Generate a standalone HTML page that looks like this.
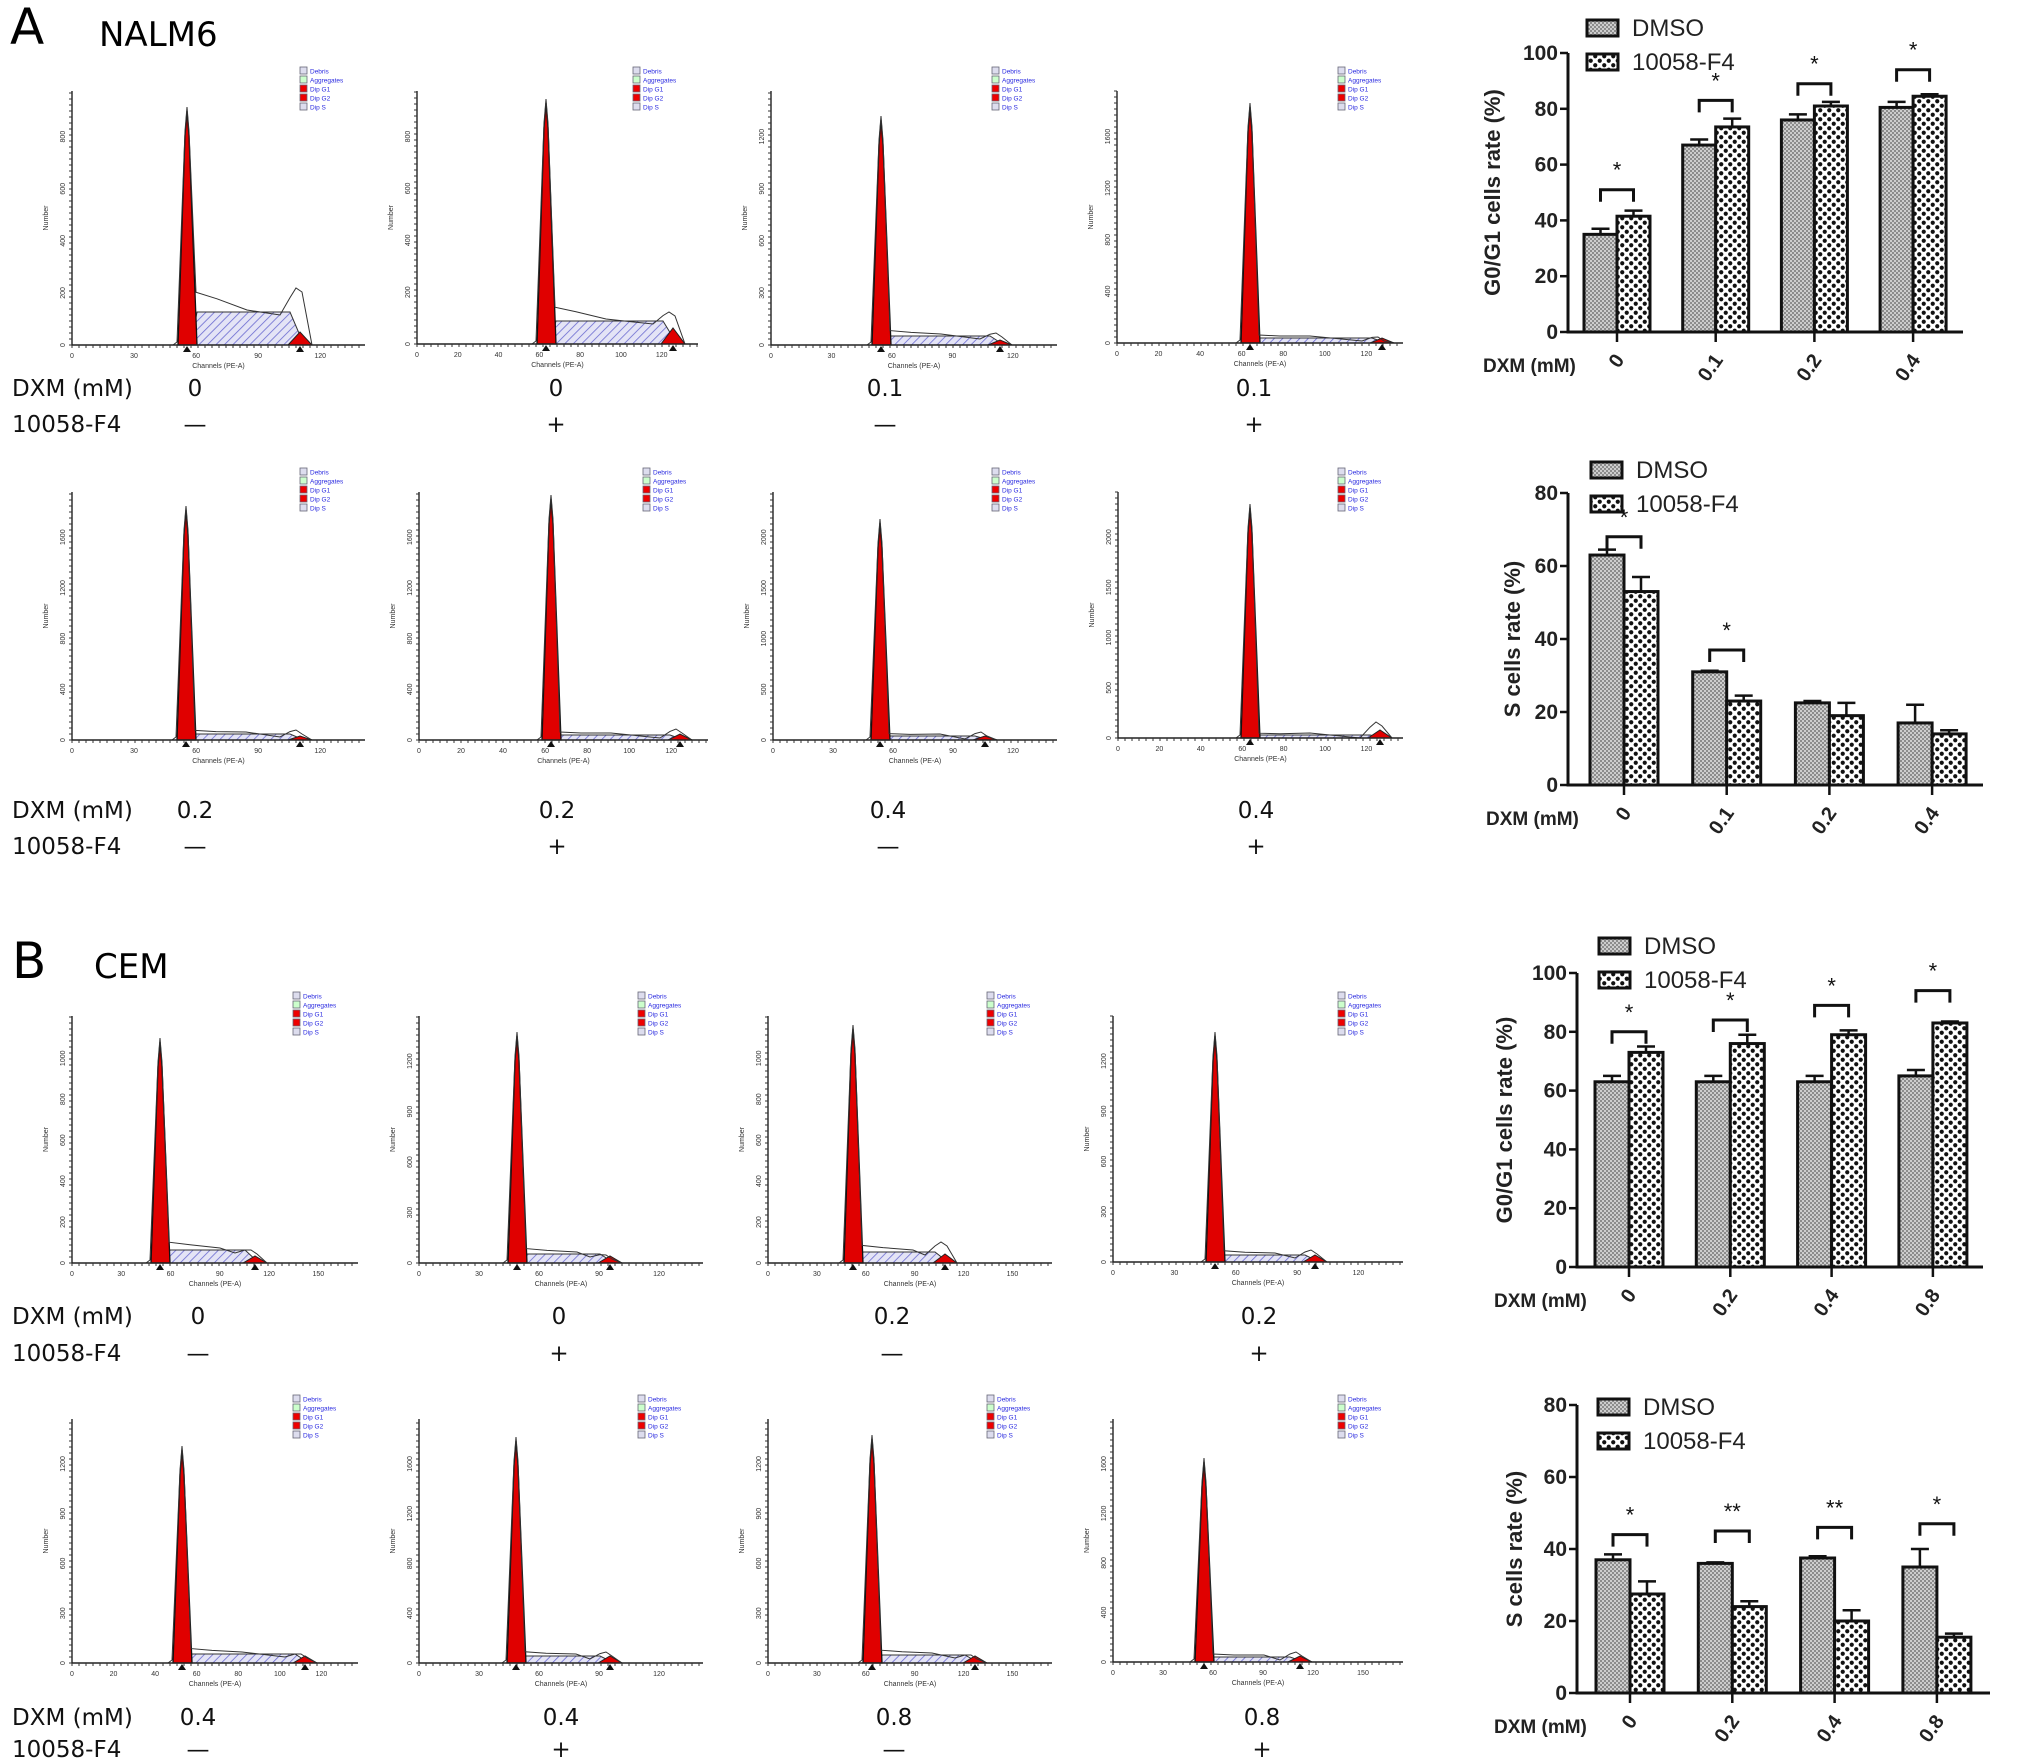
<!DOCTYPE html>
<html><head><meta charset="utf-8">
<style>
html,body{margin:0;padding:0;background:#fff;}
svg{display:block;font-family:"Liberation Sans",Arial,sans-serif;}
</style></head>
<body>
<svg id="fig" width="2031" height="1762" viewBox="0 0 2031 1762" xmlns="http://www.w3.org/2000/svg">
<defs>
<pattern id="pDmso" width="4" height="4" patternUnits="userSpaceOnUse">
<rect width="4" height="4" fill="#cdcdcd"/><rect width="2" height="2" fill="#8c8c8c"/><rect x="2" y="2" width="2" height="2" fill="#8c8c8c"/>
</pattern>
<pattern id="pF4" width="9" height="9" patternUnits="userSpaceOnUse">
<rect width="9" height="9" fill="#fff"/><circle cx="2.25" cy="2.25" r="2.1" fill="#111"/><circle cx="6.75" cy="6.75" r="2.1" fill="#111"/>
</pattern>
<pattern id="pHatch" width="6" height="6" patternUnits="userSpaceOnUse" patternTransform="rotate(45)">
<rect width="6" height="6" fill="#e4e4f6"/><line x1="0" y1="0" x2="0" y2="6" stroke="#6a6ad0" stroke-width="1.6"/>
</pattern>
</defs>
<g>
<text x="10" y="44" font-size="50" font-family="'DejaVu Sans',sans-serif">A</text>
<text x="99" y="46" font-size="34" font-family="'DejaVu Sans',sans-serif">NALM6</text>
</g>
<g>
<text x="12" y="978" font-size="50" font-family="'DejaVu Sans',sans-serif">B</text>
<text x="94" y="978" font-size="34" font-family="'DejaVu Sans',sans-serif">CEM</text>
</g>
<g id="hists"></g>
<g id="bars"></g>
</svg>
<script>
// ---------- histogram panels (flow cytometry) ----------
const histX0 = [72,417,771,1117, 72,419,773,1118, 72,419,768,1113, 72,419,768,1113];
const histX1 = [365,698,1057,1403, 365,708,1057,1403, 358,703,1052,1403, 358,703,1052,1403];
const histTop = [91,91,91,91, 492,492,492,492, 1016,1016,1016,1016, 1419,1419,1419,1419];
const histBase = [345,344,345,343, 740,740,740,738, 1263,1263,1263,1262, 1663,1663,1663,1662];
const histPeakX = [187,546,881,1250, 186,551,880,1250, 160,517,853,1215, 182,516,872,1204];
const histPeakTop = [111,103,120,107, 510,499,523,508, 1042,1036,1029,1036, 1450,1441,1439,1462];
const histSTop = [312,321,336,338, 734,735,736,735, 1250,1254,1252,1255, 1654,1656,1655,1657];
const histSEnd = [290,663,990,1372, 290,670,975,1370, 245,600,935,1305, 295,600,965,1290];
const histG2Top = [332,328,340,338, 736,734,736,730, 1256,1256,1254,1255, 1656,1656,1656,1656];
const histBump = [288,312,333,337, 730,729,732,722, 1250,1255,1242,1250, 1654,1652,1655,1652];
const histXTicks = [
 ["0","30","60","90","120"],["0","20","40","60","80","100","120"],["0","30","60","90","120"],["0","20","40","60","80","100","120"],
 ["0","30","60","90","120"],["0","20","40","60","80","100","120"],["0","30","60","90","120"],["0","20","40","60","80","100","120"],
 ["0","30","60","90","120","150"],["0","30","60","90","120"],["0","30","60","90","120","150"],["0","30","60","90","120"],
 ["0","20","40","60","80","100","120"],["0","30","60","90","120"],["0","30","60","90","120","150"],["0","30","60","90","120","150"]];
const histYTicks = [
 ["0","200","400","600","800"],["0","200","400","600","800"],["0","300","600","900","1200"],["0","400","800","1200","1600"],
 ["0","400","800","1200","1600"],["0","400","800","1200","1600"],["0","500","1000","1500","2000"],["0","500","1000","1500","2000"],
 ["0","200","400","600","800","1000"],["0","300","600","900","1200"],["0","200","400","600","800","1000"],["0","300","600","900","1200"],
 ["0","300","600","900","1200"],["0","400","800","1200","1600"],["0","300","600","900","1200"],["0","400","800","1200","1600"]];
const dxmLabels = ["0","0","0.1","0.1","0.2","0.2","0.4","0.4","0","0","0.2","0.2","0.4","0.4","0.8","0.8"];
const f4Labels = ["—","+","—","+","—","+","—","+","—","+","—","+","—","+","—","+"];
const labelCx = [195,556,885,1254, 195,557,888,1256, 198,559,892,1259, 198,561,894,1262];
const labelRowY = [[388,424],[810,846],[1316,1353],[1717,1749]];

const NS = 'http://www.w3.org/2000/svg';
function el(tag, attrs, parent){const e=document.createElementNS(NS,tag);for(const k in attrs)e.setAttribute(k,attrs[k]);if(parent)parent.appendChild(e);return e;}

const hg = document.getElementById('hists');
for(let i=0;i<16;i++){
  const g = el('g',{},hg);
  
  
  const x0=histX0[i],x1=histX1[i],yT=histTop[i],yB=histBase[i],px=histPeakX[i],pt=histPeakTop[i];
  const sT=histSTop[i],sE=histSEnd[i],g2=histG2Top[i],bp=histBump[i];
  const sb = el('polygon',{points:`${px+4},${yB} ${px+10},${sT} ${sE},${sT} ${sE+14},${yB}`,fill:'url(#pHatch)',stroke:'#333','stroke-width':1},g);
  
  
  const g2x = sE+10;
  const gp = el('polygon',{points:`${g2x-12},${yB} ${g2x},${g2} ${g2x+12},${yB}`,fill:'#e00000',stroke:'#222','stroke-width':1},g);
  
  
  const p = el('polygon',{points:`${px-9},${yB} ${px-2},${pt+25} ${px},${pt} ${px+2},${pt+25} ${px+10},${yB}`,fill:'#e00000',stroke:'#111','stroke-width':1.3},g);
  
  
  const raw = el('polyline',{points:`${x0},${yB} ${px-14},${yB} ${px-10},${yB-3} ${px-2},${pt+20} ${px},${pt-4} ${px+2},${pt+20} ${px+9},${sT-(yB-sT)*0.6} ${px+30},${sT-(yB-sT)*0.4} ${px+60},${sT-2} ${sE-10},${sT+3} ${sE},${bp+(sT-bp)*0.4} ${sE+6},${bp} ${sE+12},${bp+4} ${sE+22},${yB} ${x1},${yB}`,fill:'none',stroke:'#333','stroke-width':1},g);
  
  
  const ax = el('path',{d:`M${x0},${yT} V${yB} H${x1}`,fill:'none',stroke:'#222','stroke-width':1.4},g);
  
  
  let tk='';
  for(let y=yB;y>=yT;y-=6) tk+=`M${x0-3},${y}H${x0}`;
  for(let x=x0;x<=x1;x+=7) tk+=`M${x},${yB}V${yB+3}`;
  el('path',{d:tk,stroke:'#333','stroke-width':1},g);
  const xt=histXTicks[i], n=xt.length;
  const step=(x1-x0-20)/(n-0.6);
  xt.forEach((t,j)=>{const tx=el('text',{x:x0+j*step,y:yB+13,'font-size':7,'text-anchor':'middle',fill:'#333'},g);tx.textContent=t;});
  const yticks=histYTicks[i], ystep=(yB-yT-30)/(yticks.length-0.7);
  yticks.forEach((t,j)=>{const ty=el('text',{x:0,y:0,'font-size':7,'text-anchor':'middle',fill:'#333',transform:`translate(${x0-7},${yB-j*ystep}) rotate(-90)`},g);ty.textContent=t;});
  const ct = el('text',{x:(x0+x1)/2,y:yB+23,'font-size':7,'text-anchor':'middle',fill:'#333'},g);
  ct.textContent='Channels (PE-A)';
  
  
  const yt = el('text',{x:0,y:0,'font-size':7,'text-anchor':'middle',fill:'#333',transform:`translate(${x0-24},${(yT+yB)/2}) rotate(-90)`},g);
  yt.textContent='Number';
  
  
  [px,g2x].forEach(mx=>el('polygon',{points:`${mx-4},${yB+7} ${mx},${yB+1} ${mx+4},${yB+7}`,fill:'#111'},g));
  const lg = el('g',{},g);
  
  
  const lx=x1-65, ly=yT-24;
  const names=['Debris','Aggregates','Dip G1','Dip G2','Dip S'];
  const cols=['#dde','#cfc','#e00','#e00','#dde'];
  names.forEach((nm,j)=>{
    el('rect',{x:lx,y:ly+j*9,width:7,height:7,fill:cols[j],stroke:'#667','stroke-width':0.8},lg);
    const t=el('text',{x:lx+10,y:ly+j*9+6.5,'font-size':6.5,fill:'#2a2ae0'},lg);t.textContent=nm;
  });
}
for(let r=0;r<4;r++){
  const [y1,y2]=labelRowY[r];
  let t=el('text',{x:12,y:y1+8,'font-size':23,fill:'#111','font-family':"'DejaVu Sans',sans-serif"},hg);
  t.textContent='DXM (mM)';
  
  
  t=el('text',{x:12,y:y2+8,'font-size':23,fill:'#111','font-family':"'DejaVu Sans',sans-serif"},hg);
  t.textContent='10058-F4';
  
  
  for(let c=0;c<4;c++){
    const k=r*4+c;
    const v=el('text',{x:labelCx[k],y:y1+8,'font-size':23,'text-anchor':'middle',fill:'#111','font-family':"'DejaVu Sans',sans-serif"},hg);
    v.textContent=dxmLabels[k];
    
    
    const w=el('text',{x:labelCx[k],y:y2+8,'font-size':23,'text-anchor':'middle',fill:'#111','font-family':"'DejaVu Sans',sans-serif"},hg);
    w.textContent=f4Labels[k];
    
    
  }
}

// ---------- bar charts ----------
const c1Cats=["0","0.1","0.2","0.4"];
const c1Dmso=[35,67,76,80.5];
const c1DmsoErr=[2,2,2,2];
const c1F4=[41.5,73.5,81,84.5];
const c1F4Err=[2,3,1.5,0.7];
const c1Sig=[51,83,89,94];
const c1SigLbl=["*","*","*","*"];
const c1Ticks=[0,20,40,60,80,100];

const c2Cats=["0","0.1","0.2","0.4"];
const c2Dmso=[63,31,22.5,17];
const c2DmsoErr=[1.5,0.3,0.5,5];
const c2F4=[53,23,19,14];
const c2F4Err=[4,1.5,3.5,1];
const c2Sig=[68,37,null,null];
const c2SigLbl=["*","*","",""];
const c2Ticks=[0,20,40,60,80];

const c3Cats=["0","0.2","0.4","0.8"];
const c3Dmso=[63,63,63,65];
const c3DmsoErr=[2,2,2,2];
const c3F4=[73,76,79,83];
const c3F4Err=[2,3,1.5,0.5];
const c3Sig=[80,84,89,94];
const c3SigLbl=["*","*","*","*"];
const c3Ticks=[0,20,40,60,80,100];

const c4Cats=["0","0.2","0.4","0.8"];
const c4Dmso=[37,36,37.5,35];
const c4DmsoErr=[1.5,0.3,0.5,5];
const c4F4=[27.5,24,20,15.5];
const c4F4Err=[3.5,1.5,3,1];
const c4Sig=[44,45,46,47];
const c4SigLbl=["*","**","**","*"];
const c4Ticks=[0,20,40,60,80];

const bg=document.getElementById('bars');
function barChart(name,cfg,cats,dmso,dmsoErr,f4,f4Err,sig,sigLbl,ticks){
  const g=el('g',{},bg);
  
  
  const max=ticks[ticks.length-1];
  const Y=v=>cfg.y0-(v/max)*(cfg.y0-cfg.yMax);
  const X=i=>cfg.g0+i*cfg.gs;
  const bw=cfg.bw;
  cats.forEach((c,i)=>{
    const cx=X(i);
    const b1=el('rect',{x:cx-bw,y:Y(dmso[i]),width:bw,height:cfg.y0-Y(dmso[i]),fill:'url(#pDmso)',stroke:'#111','stroke-width':3},g);
    
    
    const b2=el('rect',{x:cx,y:Y(f4[i]),width:bw,height:cfg.y0-Y(f4[i]),fill:'url(#pF4)',stroke:'#111','stroke-width':3},g);
    
    
    [[cx-bw/2,dmso[i],dmsoErr[i]],[cx+bw/2,f4[i],f4Err[i]]].forEach(([ex,v,e])=>{
      const eb=el('path',{d:`M${ex},${Y(v)}V${Y(v+e)}M${ex-9},${Y(v+e)}H${ex+9}`,stroke:'#111','stroke-width':2.5,fill:'none'},g);
      
      
    });
    if(sig[i]!=null){
      const sy=Y(sig[i]);
      const br=el('path',{d:`M${cx-bw/2},${sy+12}V${sy}H${cx+bw/2}V${sy+12}`,stroke:'#111','stroke-width':3,fill:'none'},g);
      
      
      const st=el('text',{x:cx,y:sy-12,'font-size':22,'text-anchor':'middle',fill:'#111'},g);
      st.textContent=sigLbl[i];
      
      
    }
    el('path',{d:`M${cx},${cfg.y0}V${cfg.y0+10}`,stroke:'#111','stroke-width':2.5},g);
    const xl=el('text',{x:0,y:0,'font-size':20,'font-weight':'bold','text-anchor':'end',fill:'#222',transform:`translate(${cx+8},${cfg.y0+28}) rotate(-55)`},g);
    xl.textContent=c;
    
    
  });
  const ax=el('path',{d:`M${cfg.ax},${cfg.yMax}V${cfg.y0}H${cfg.xEnd}`,stroke:'#111','stroke-width':3,fill:'none'},g);
  
  
  ticks.forEach(t=>{
    el('path',{d:`M${cfg.ax-8},${Y(t)}H${cfg.ax}`,stroke:'#111','stroke-width':2.5},g);
    const tl=el('text',{x:cfg.ax-10,y:Y(t)+7,'font-size':21,'font-weight':'bold','text-anchor':'end',fill:'#222'},g);
    tl.textContent=t;
    
    
  });
  const yt=el('text',{x:0,y:0,'font-size':22,'font-weight':'bold','text-anchor':'middle',fill:'#222',transform:`translate(${cfg.titleX},${(cfg.y0+cfg.yMax)/2}) rotate(-90)`},g);
  yt.textContent=cfg.title;
  
  
  const dx=el('text',{x:cfg.dxmX,y:cfg.y0+40,'font-size':19,'font-weight':'bold',fill:'#222'},g);
  dx.textContent='DXM  (mM)';
  
  
  [['DMSO','url(#pDmso)',cfg.legY],['10058-F4','url(#pF4)',cfg.legY+34]].forEach(([nm,f,ly])=>{
    const lg=el('g',{},g);
    
    
    el('rect',{x:cfg.legX,y:ly,width:31,height:16,fill:f,stroke:'#111','stroke-width':3},lg);
    const t=el('text',{x:cfg.legX+45,y:ly+16,'font-size':24,fill:'#222'},lg);
    t.textContent=nm;
  });
}
barChart('g0g1-chart-nalm6',{ax:1568,y0:332,yMax:53,xEnd:1963,g0:1617,gs:98.7,bw:33,title:'G0/G1 cells rate (%)',titleX:1500,dxmX:1483,legX:1587,legY:20},c1Cats,c1Dmso,c1DmsoErr,c1F4,c1F4Err,c1Sig,c1SigLbl,c1Ticks);
barChart('s-phase-chart-nalm6',{ax:1568,y0:785,yMax:493,xEnd:1983,g0:1624,gs:102.7,bw:34,title:'S cells rate (%)',titleX:1520,dxmX:1486,legX:1591,legY:462},c2Cats,c2Dmso,c2DmsoErr,c2F4,c2F4Err,c2Sig,c2SigLbl,c2Ticks);
barChart('g0g1-chart-cem',{ax:1577,y0:1267,yMax:973,xEnd:1983,g0:1629,gs:101.3,bw:34,title:'G0/G1 cells rate (%)',titleX:1512,dxmX:1494,legX:1599,legY:938},c3Cats,c3Dmso,c3DmsoErr,c3F4,c3F4Err,c3Sig,c3SigLbl,c3Ticks);
barChart('s-phase-chart-cem',{ax:1577,y0:1693,yMax:1405,xEnd:1990,g0:1630,gs:102.3,bw:34,title:'S cells rate (%)',titleX:1522,dxmX:1494,legX:1598,legY:1399},c4Cats,c4Dmso,c4DmsoErr,c4F4,c4F4Err,c4Sig,c4SigLbl,c4Ticks);
</script>
</body></html>
